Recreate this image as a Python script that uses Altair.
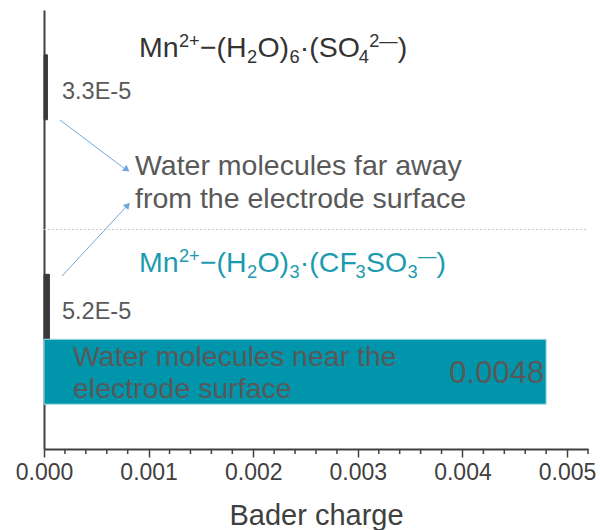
import altair as alt
import pandas as pd

# Bader charge of the water molecules in each Mn2+ solvation shell
group_order = ["sulfate", "triflate"]
site_order = ["far", "near"]
bar_group = ["sulfate", "triflate", "triflate"]
bar_site = ["far", "far", "near"]
bar_charge = [3.3e-5, 5.2e-5, 0.0048]

major_ticks = [0.000, 0.001, 0.002, 0.003, 0.004, 0.005]
minor_ticks = [0.0002, 0.0004, 0.0006, 0.0008,
               0.0012, 0.0014, 0.0016, 0.0018,
               0.0022, 0.0024, 0.0026, 0.0028,
               0.0032, 0.0034, 0.0036, 0.0038,
               0.0042, 0.0044, 0.0046, 0.0048,
               0.0052]

FONT = "Liberation Sans"
W, H = 544, 439
LEFT, TOP = 44, 10
AXIS_C = "#404040"
TEXT_C = "#595959"
TEAL = "#0095aa"

df = pd.DataFrame({"group": bar_group, "site": bar_site, "charge": bar_charge})


def sci(v):
    m, e = f"{v:.1E}".split("E")
    return f"{m}E{int(e)}"


df["label"] = [sci(v) if v < 1e-3 else f"{v:.4f}" for v in df["charge"]]

x_enc = alt.X(
    "charge:Q",
    scale=alt.Scale(domain=[0, 0.0052], nice=False, zero=True),
    axis=alt.Axis(values=major_ticks, format=".3f", title="Bader charge",
                  grid=False, tickSize=8, labelPadding=4, titlePadding=17,
                  labelFlush=False),
)
y_enc = alt.Y(
    "group:N", sort=group_order,
    scale=alt.Scale(domain=group_order, paddingInner=0, paddingOuter=0),
    axis=alt.Axis(labels=False, ticks=False, title=None, grid=False),
)
yo_enc = alt.YOffset(
    "site:N", sort=site_order,
    scale=alt.Scale(domain=site_order, paddingInner=0, paddingOuter=0.69),
)

bars = alt.Chart(df).mark_bar(strokeWidth=1).encode(
    x=x_enc, y=y_enc, yOffset=yo_enc,
    color=alt.Color("site:N", scale=alt.Scale(domain=site_order, range=["#3a3a3a", TEAL]), legend=None),
    stroke=alt.Stroke("site:N", scale=alt.Scale(domain=site_order, range=["#3a3a3a", "#a6dde6"]), legend=None),
)

small_labels = alt.Chart(df[df["site"] == "far"]).mark_text(
    align="left", baseline="middle", dy=5, fontSize=23.5, font=FONT, color=TEXT_C
).encode(x=alt.value(18), y=y_enc, yOffset=yo_enc, text="label:N")

big_label = alt.Chart(df[df["site"] == "near"]).mark_text(
    align="right", baseline="middle", dx=-2, dy=2, fontSize=31, font=FONT, color=TEXT_C
).encode(x=x_enc, y=y_enc, yOffset=yo_enc, text="label:N")

minor = alt.Chart(pd.DataFrame({"charge": minor_ticks})).mark_rule(
    color=AXIS_C, strokeWidth=1.5
).encode(x=x_enc, y=alt.value(H), y2=alt.value(H + 5))

one = pd.DataFrame({"k": [0]})

separator = alt.Chart(one).mark_rule(color="#c8c8c8", strokeDash=[2, 2], strokeWidth=1).encode(
    x=alt.value(0), x2=alt.value(W), y=alt.value(H / 2)
)


def text_at(txt, x, y, size, color, align="left"):
    return alt.Chart(one).mark_text(
        align=align, baseline="alphabetic", fontSize=size, font=FONT, color=color
    ).encode(x=alt.value(x), y=alt.value(y), text=alt.value(txt))


# Arial advance widths (em) for the formula glyphs
ADV = {"M": .833, "n": .556, "2": .556, "+": .584, "\u2212": .584, "(": .333,
       ")": .333, "H": .722, "O": .778, "6": .556, "3": .556, "4": .556,
       "\u00b7": .278, "S": .667, "C": .722, "F": .611, "\u2014": 1.0}


def formula(parts, x0, base, size, color):
    """parts: list of (text, kind) with kind 'n', 'sup' or 'sub'."""
    layers = []
    x = x0
    for txt, kind in parts:
        fs = size if kind == "n" else size * 0.64
        dy = 0 if kind == "n" else (-0.36 * size if kind == "sup" else 0.2 * size)
        layers.append(text_at(txt, x, base + dy, fs, color))
        x += sum(ADV.get(c, .556) for c in txt) * fs + 0.3
    return layers


f1 = formula([("Mn", "n"), ("2+", "sup"), ("\u2212(H", "n"), ("2", "sub"), ("O)", "n"),
              ("6", "sub"), ("\u00b7(SO", "n"), ("4", "sub"), ("2\u2014", "sup"), (")", "n")],
             95, 47, 28.5, "#333333")
f2 = formula([("Mn", "n"), ("2+", "sup"), ("\u2212(H", "n"), ("2", "sub"), ("O)", "n"),
              ("3", "sub"), ("\u00b7(CF", "n"), ("3", "sub"), ("SO", "n"), ("3", "sub"),
              ("\u2014", "sup"), (")", "n")],
             95, 262, 28.5, "#1a9bb0")

notes = [
    text_at("Water molecules far away", 91, 165, 28.5, TEXT_C),
    text_at("from the electrode surface", 91, 198, 28.5, TEXT_C),
    text_at("Water molecules near the", 29, 356, 28.5, TEXT_C),
    text_at("electrode surface", 29, 388, 28.5, TEXT_C),
]

ARROW_C = "#6fa8dc"
arrows = [
    alt.Chart(one).mark_rule(color=ARROW_C, strokeWidth=1).encode(
        x=alt.value(16), y=alt.value(110), x2=alt.value(81), y2=alt.value(159)),
    alt.Chart(one).mark_rule(color=ARROW_C, strokeWidth=1).encode(
        x=alt.value(18), y=alt.value(266), x2=alt.value(82), y2=alt.value(197)),
    alt.Chart(one).mark_point(shape="triangle", filled=True, color=ARROW_C, size=55, opacity=1, angle=127).encode(
        x=alt.value(82), y=alt.value(159)),
    alt.Chart(one).mark_point(shape="triangle", filled=True, color=ARROW_C, size=55, opacity=1, angle=43).encode(
        x=alt.value(83), y=alt.value(196)),
]

chart = alt.layer(
    separator, bars, minor, small_labels, big_label, *notes, *f1, *f2, *arrows
).properties(
    width=W, height=H,
    autosize=alt.AutoSizeParams(type="none"),
    padding={"left": LEFT, "top": TOP, "right": 600 - LEFT - W, "bottom": 530 - TOP - H},
).configure_view(stroke=None).configure_axis(
    domainColor=AXIS_C, domainWidth=2, tickColor=AXIS_C, tickWidth=1.5,
    labelFont=FONT, labelFontSize=23, labelColor=AXIS_C,
    titleFont=FONT, titleFontSize=29, titleFontWeight="normal", titleColor=AXIS_C,
)

chart.save("out.html", embed_options={"renderer": "svg", "actions": False})
